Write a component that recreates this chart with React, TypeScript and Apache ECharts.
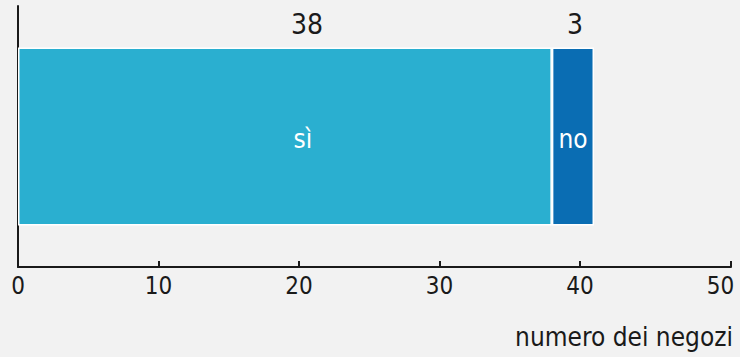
import React, { useEffect, useRef } from "react";
import * as echarts from "echarts";

const categories = ["negozi"];
const seriesNames = ["sì", "no"];
const siValues = [38];
const noValues = [3];
const xTicks = [0, 10, 20, 30, 40, 50];
const colors = ["#2aafd0", "#0a6db3"];
const FONT = "'DejaVu Sans Condensed', 'DejaVu Sans', sans-serif";
const AXIS_END = 50.75; // axis line runs slightly past the last labelled tick

export default function App() {
  const ref = useRef<HTMLDivElement>(null);
  useEffect(() => {
    const chart = echarts.init(ref.current!, null, { renderer: "svg" });
    const values = [siValues, noValues];
    const topOffsets = [[22, 0], [2, 0]];
    const inOffsets = [[18, 2], [0, 2]];
    const valueSeries = values.map((v, i) => ({
      name: seriesNames[i],
      type: "bar",
      stack: "a",
      yAxisIndex: 0,
      barWidth: 178,
      data: v,
      itemStyle: { color: colors[i], borderColor: "#ffffff", borderWidth: 1.5 },
      label: {
        show: true,
        position: "top",
        distance: 9,
        offset: topOffsets[i],
        color: "#1a1a1a",
        fontFamily: FONT,
        fontSize: 28,
        formatter: (p: any) => String(p.value),
      },
    }));
    const nameSeries = values.map((v, i) => ({
      name: seriesNames[i] + "-name",
      type: "bar",
      stack: "b",
      yAxisIndex: 1,
      barWidth: 178,
      data: v,
      itemStyle: { color: "rgba(0,0,0,0)" },
      label: {
        show: true,
        position: "inside",
        offset: inOffsets[i],
        color: "#ffffff",
        fontFamily: FONT,
        fontSize: 26,
        formatter: () => seriesNames[i],
      },
      silent: true,
    }));
    chart.setOption({
      animation: false,
      backgroundColor: "#f2f2f2",
      grid: { left: 18, right: 9, top: 6, bottom: 90, containLabel: false },
      xAxis: {
        type: "value",
        min: xTicks[0],
        max: AXIS_END,
        name: "numero dei negozi",
        nameLocation: "end",
        nameGap: 0,
        nameTextStyle: {
          fontFamily: FONT,
          fontSize: 26,
          color: "#1a1a1a",
          align: "right",
          verticalAlign: "top",
          padding: [57, -2, 0, 0],
        },
        axisLine: { show: true, lineStyle: { color: "#1a1a1a", width: 2 } },
        axisTick: {
          show: true,
          inside: true,
          length: 6,
          customValues: [...xTicks.slice(0, -1), AXIS_END],
          lineStyle: { color: "#1a1a1a", width: 2 },
        },
        axisLabel: {
          fontFamily: FONT,
          fontSize: 24,
          color: "#1a1a1a",
          margin: 7,
          customValues: xTicks,
        },
        splitLine: { show: false },
      },
      yAxis: [
        {
          type: "category",
          data: categories,
          axisLine: { show: true, lineStyle: { color: "#1a1a1a", width: 2 } },
          axisTick: { show: false },
          axisLabel: { show: false },
        },
        {
          type: "category",
          data: categories,
          position: "left",
          axisLine: { show: false },
          axisTick: { show: false },
          axisLabel: { show: false },
        },
      ],
      series: [...valueSeries, ...nameSeries],
    });
    return () => chart.dispose();
  }, []);
  return <div ref={ref} style={{ width: 740, height: 357, position: "absolute", left: 0, top: 0 }} />;
}
